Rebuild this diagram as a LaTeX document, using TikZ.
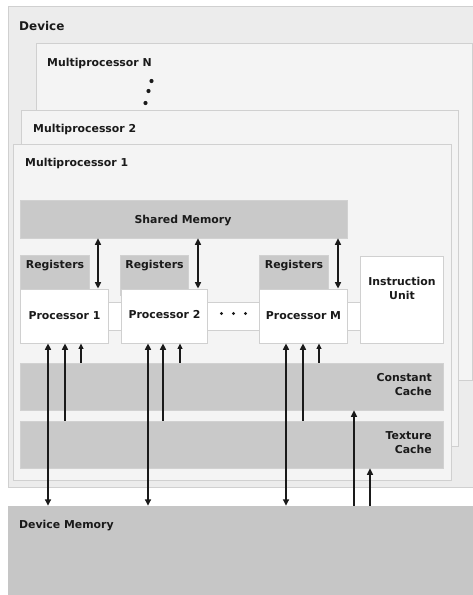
\documentclass[tikz,border=0pt]{standalone}
\usepackage{fontspec}
\setmainfont{DejaVu Sans}
\usetikzlibrary{fit,arrows.meta}
\definecolor{devfill}{HTML}{ECECEC}
\definecolor{mpfill}{HTML}{F4F4F4}
\definecolor{edgegray}{HTML}{D0D0D0}
\definecolor{unitgray}{HTML}{C9C9C9}
\definecolor{memgray}{HTML}{C6C6C6}
\definecolor{ink}{HTML}{1A1A1A}
\begin{document}
\begin{tikzpicture}[x=1pt,y=-1pt,
  txt/.style={font=\bfseries\fontsize{10.9}{14}\selectfont, text=ink, inner sep=0},
  frame/.style={draw=edgegray, fill=mpfill, line width=0.8pt, inner sep=0},
  unitbox/.style={draw=unitgray!85, fill=unitgray, line width=0.6pt, inner sep=0},
  procbox/.style={draw=edgegray, fill=white, line width=0.8pt, inner sep=0},
  dot/.style={circle, fill=ink, inner sep=0, minimum size=#1},
  dbl/.style={{Triangle[length=6.5pt,width=6pt]}-{Triangle[length=6.5pt,width=6pt]}, line width=1.5pt, draw=ink},
  up/.style={-{Triangle[length=6.5pt,width=6pt]}, line width=1.5pt, draw=ink},
  upsmall/.style={-{Triangle[length=5.5pt,width=5pt]}, line width=1.2pt, draw=ink}
]
\useasboundingbox (0,0) rectangle (473,595);
\clip (0,0) rectangle (473,595);

% device and the stacked multiprocessors
\node[frame, fill=devfill, fit={(8,6)(480,487)}] (dev) {};
\node[txt, anchor=base west, font=\bfseries\fontsize{12}{14}\selectfont] (devlbl) at (19,30.5) {Device};
\node[frame, fit={(36,43)(472,380)}] (mpn) {};
\node[txt, anchor=base west] (mpnlbl) at (47,66) {Multiprocessor N};
\node[dot=4.2pt] (vd1) at (151.5,81) {};
\node[dot=4.2pt] (vd2) at (148.5,91) {};
\node[dot=4.2pt] (vd3) at (145.5,103) {};
\node[frame, fit={(21,110)(458,446)}] (mp2) {};
\node[txt, anchor=base west] (mp2lbl) at (33,132.5) {Multiprocessor 2};
\node[frame, fit={(13,144)(451,480)}] (mp1) {};
\node[txt, anchor=base west] (mp1lbl) at (25,166.5) {Multiprocessor 1};

% strip linking the processors to the instruction unit
\node[draw=edgegray, fill=white, line width=0.8pt, inner sep=0, fit={(100,302)(365,330)}] (bus) {};

% shared memory and registers
\node[unitbox, fit={(20,200)(347,238)}] (sm) {};
\node[txt, anchor=base] (smlbl) at (183,223.5) {Shared Memory};
\node[unitbox, fit={(20,255)(89,295)}] (r1) {};
\node[txt, anchor=base] (r1lbl) at (55,268) {Registers};
\node[unitbox, fit={(120,255)(188,295)}] (r2) {};
\node[txt, anchor=base] (r2lbl) at (154.5,268) {Registers};
\node[unitbox, fit={(259,255)(328,295)}] (rm) {};
\node[txt, anchor=base] (rmlbl) at (294,268) {Registers};

% processors and instruction unit
\node[procbox, fit={(20,289)(108,343)}] (p1) {};
\node[txt, anchor=base] (p1lbl) at (64.5,319.5) {Processor 1};
\node[procbox, fit={(121,289)(207,343)}] (p2) {};
\node[txt, anchor=base] (p2lbl) at (164.5,318.5) {Processor 2};
\node[procbox, fit={(259,289)(347,343)}] (pm) {};
\node[txt, anchor=base] (pmlbl) at (303.5,319.5) {Processor M};
\node[procbox, fit={(360,256)(443,343)}] (iu) {};
\node[txt, anchor=base] (iulbl1) at (402,285) {Instruction};
\node[txt, anchor=base] (iulbl2) at (402,299) {Unit};
\node[dot=3.4pt] (hd1) at (221.5,313.5) {};
\node[dot=3.4pt] (hd2) at (233.5,313.5) {};
\node[dot=3.4pt] (hd3) at (245.5,313.5) {};

% caches
\node[unitbox, fit={(20,363)(443,410)}] (cc) {};
\node[txt, anchor=base east] (cclbl1) at (432,381.5) {Constant};
\node[txt, anchor=base east] (cclbl2) at (432,395.5) {Cache};
\node[unitbox, fit={(20,421)(443,468)}] (tc) {};
\node[txt, anchor=base east] (tclbl1) at (432,439.5) {Texture};
\node[txt, anchor=base east] (tclbl2) at (432,453.5) {Cache};

% device memory
\node[draw=none, fill=memgray, inner sep=0, fit={(8,506)(480,600)}] (dm) {};
\node[txt, anchor=base west] (dmlbl) at (19,528.5) {Device Memory};

% columns of the connectors
\coordinate (a1) at (48,0);  \coordinate (a2) at (65,0);  \coordinate (a3) at (81,0);
\coordinate (b1) at (148,0); \coordinate (b2) at (163,0); \coordinate (b3) at (180,0);
\coordinate (m1) at (286,0); \coordinate (m2) at (303,0); \coordinate (m3) at (319,0);
\coordinate (s1) at (98,0);  \coordinate (s2) at (198,0); \coordinate (s3) at (338,0);
\coordinate (k1) at (354,0); \coordinate (k2) at (370,0);

% shared memory <-> processors
\draw[dbl] (sm.south -| s1) -- (p1.north -| s1);
\draw[dbl] (sm.south -| s2) -- (p2.north -| s2);
\draw[dbl] (sm.south -| s3) -- (pm.north -| s3);

% processors <-> device memory and caches
\draw[dbl] (p1.south -| a1) -- (dm.north -| a1);
\draw[up] (tc.north -| a2) -- (p1.south -| a2);
\draw[upsmall] (cc.north -| a3) -- (p1.south -| a3);
\draw[dbl] (p2.south -| b1) -- (dm.north -| b1);
\draw[up] (tc.north -| b2) -- (p2.south -| b2);
\draw[upsmall] (cc.north -| b3) -- (p2.south -| b3);
\draw[dbl] (pm.south -| m1) -- (dm.north -| m1);
\draw[up] (tc.north -| m2) -- (pm.south -| m2);
\draw[upsmall] (cc.north -| m3) -- (pm.south -| m3);

% device memory -> caches
\draw[up] (dm.north -| k1) -- (cc.south -| k1);
\draw[up] (dm.north -| k2) -- (tc.south -| k2);
\end{tikzpicture}
\end{document}
